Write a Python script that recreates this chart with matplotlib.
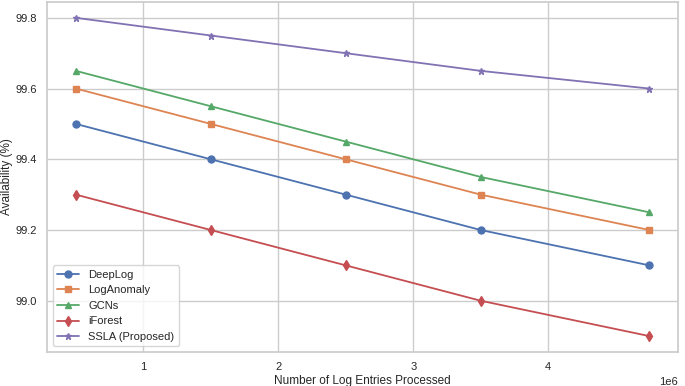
import numpy as np
import matplotlib
matplotlib.use("Agg")
import matplotlib.pyplot as plt
import seaborn as sns

# log entries processed
entries = [500000, 1500000, 2500000, 3500000, 4750000]

deeplog = [99.5, 99.4, 99.3, 99.2, 99.1]
loganomaly = [99.6, 99.5, 99.4, 99.3, 99.2]
gcns = [99.65, 99.55, 99.45, 99.35, 99.25]
iforest = [99.3, 99.2, 99.1, 99.0, 98.9]
ssla = [99.8, 99.75, 99.7, 99.65, 99.6]

sns.set_theme(style="whitegrid")
plt.rcParams['font.family'] = ['Arial', 'Liberation Sans', 'DejaVu Sans']

fig, ax = plt.subplots(figsize=(6.85, 3.86), dpi=100)
pal = sns.color_palette("deep")

ax.plot(entries, deeplog, marker='o', ms=5, lw=1.3, color=pal[0], label='DeepLog')
ax.plot(entries, loganomaly, marker='s', ms=5, lw=1.3, color=pal[1], label='LogAnomaly')
ax.plot(entries, gcns, marker='^', ms=5, lw=1.3, color=pal[2], label='GCNs')
ax.plot(entries, iforest, marker='d', ms=5, lw=1.3, color=pal[3], label='iForest')
ax.plot(entries, ssla, marker='*', ms=5, lw=1.3, color=pal[4], label='SSLA (Proposed)')

ax.set_xlabel('Number of Log Entries Processed', fontsize=8.5, labelpad=2)
ax.set_ylabel('Availability (%)', fontsize=8.5, labelpad=2)
ax.tick_params(labelsize=8, pad=1.5)
ax.xaxis.get_offset_text().set_fontsize(8)
ax.legend(loc='lower left', fontsize=8, frameon=True)

plt.subplots_adjust(left=0.069, right=0.99, top=0.995, bottom=0.088)
fig.savefig('out.png', dpi=100)
